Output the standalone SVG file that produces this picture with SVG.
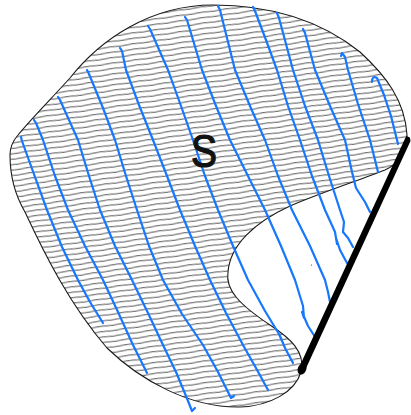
<svg xmlns="http://www.w3.org/2000/svg" width="411" height="415" viewBox="0 0 411 415">
  <defs>
    <pattern id="hatch" patternUnits="userSpaceOnUse" width="48" height="5.4" patternTransform="rotate(-8)">
      <path d="M0,2.7 q6,-0.6 12,0 t12,0 t12,0 t12,0" fill="none" stroke="#333" stroke-width="0.85"/>
    </pattern>
  </defs>
  <style>
    .blue { fill: none; stroke: #1677ff; stroke-width: 2.2; stroke-linecap: round; stroke-linejoin: round; }
    .outline { fill: url(#hatch); stroke: #1a1a1a; stroke-width: 1.1; }
    .label { font-family: "Liberation Sans", Arial, sans-serif; font-size: 46px; fill: #111; stroke: #111; stroke-width: 1.2; }
  </style>

  <g id="region-S">
    <path class="outline" d="M10,155 C10,180 18,200 25,212 C45,255 70,305 107,348 C140,380 190,408 240,407 C270,406 295,392 301,372 C306,352 290,338 270,325 C240,305 225,290 228,272 C230,245 255,222 290,206 C320,193 360,180 385,170 C400,163 408,150 407,135 C405,100 385,75 360,52 C320,20 270,5 213,5 C150,5 100,40 70,78 C50,100 30,120 18,135 C12,142 10,148 10,155 Z"/>
  </g>

  <g id="blue-curves">
    <path class="blue" d="M21,137 L22,141 L31,166 L47,210 L62,247 L78,280 L90,302 L103,323"/>
    <path class="blue" d="M34,120 L36,123 L43,140 L55,176 L68,210 L85,246 L103,280 L118,312 L133,345 L147,373"/>
    <path class="blue" d="M58,97 L60,100 L78,140 L89,176 L100,210 L115,246 L132,280 L148,313 L163,345 L176,372 L186,396 L192,411 L195,408"/>
    <path class="blue" d="M87,70 L89,74 L103,108 L115,140 L126,176 L137,210 L149,246 L163,280 L182,314 L203,345 L218,372 L231,398 L234,396"/>
    <path class="blue" d="M120,48 L122,51 L126,70 L139,105 L153,140 L167,176 L180,210 L195,246 L210,280 L226,313 L243,345 L256,368 L268,390"/>
    <path class="blue" d="M148,26 L150,29 L168,70 L181,106 L193,140 L205,176 L218,210 L233,246 L248,280 L265,311 L279,334 L282,341 L280,336 L285,348 L293,363"/>
    <path class="blue" d="M185,17 L187,20 L202,70 L216,106 L230,140 L248,176 L265,210 L281,246 L295,280 L303,306 L304,318 L302,312 L308,326 L317,340"/>
    <path class="blue" d="M218,6 L220,10 L235,70 L250,106 L265,140 L278,176 L292,210 L310,246 L325,280 L328,292 L330,302"/>
    <path class="blue" d="M253,7 L255,11 L266,40 L277,70 L288,106 L300,140 L312,176 L325,210 L335,232 L337,244 L336,238 L340,250 L347,263"/>
    <path class="blue" d="M277,13 L279,18 L293,70 L305,106 L318,140 L329,176 L340,210 L344,222 L343,232 L348,238 L353,247"/>
    <path class="blue" d="M303,29 L305,33 L315,70 L330,106 L345,140 L352,172 L356,188 L365,202 L370,212"/>
    <path class="blue" d="M341,56 L342,53 L345,57 L348,70 L358,104 L370,140 L378,172"/>
    <path class="blue" d="M372,82 Q372,75 377,78 L384,95 L391,116 L397,140 L398,144"/>
  </g>

  <g id="segment">
    <polygon points="406.2,136 409.8,137.6 410.5,141 305,370.6 299,367.6" fill="#000"/>
    <ellipse cx="302" cy="369" rx="4.2" ry="5.8" transform="rotate(24 302 369)" fill="#000"/>
    <circle cx="311.5" cy="265" r="0.6" fill="#333"/>
  </g>

  <g id="label-S">
    <text class="label" x="0" y="0" text-anchor="middle" transform="translate(204,167) scale(0.85,1)">S</text>
  </g>
</svg>
